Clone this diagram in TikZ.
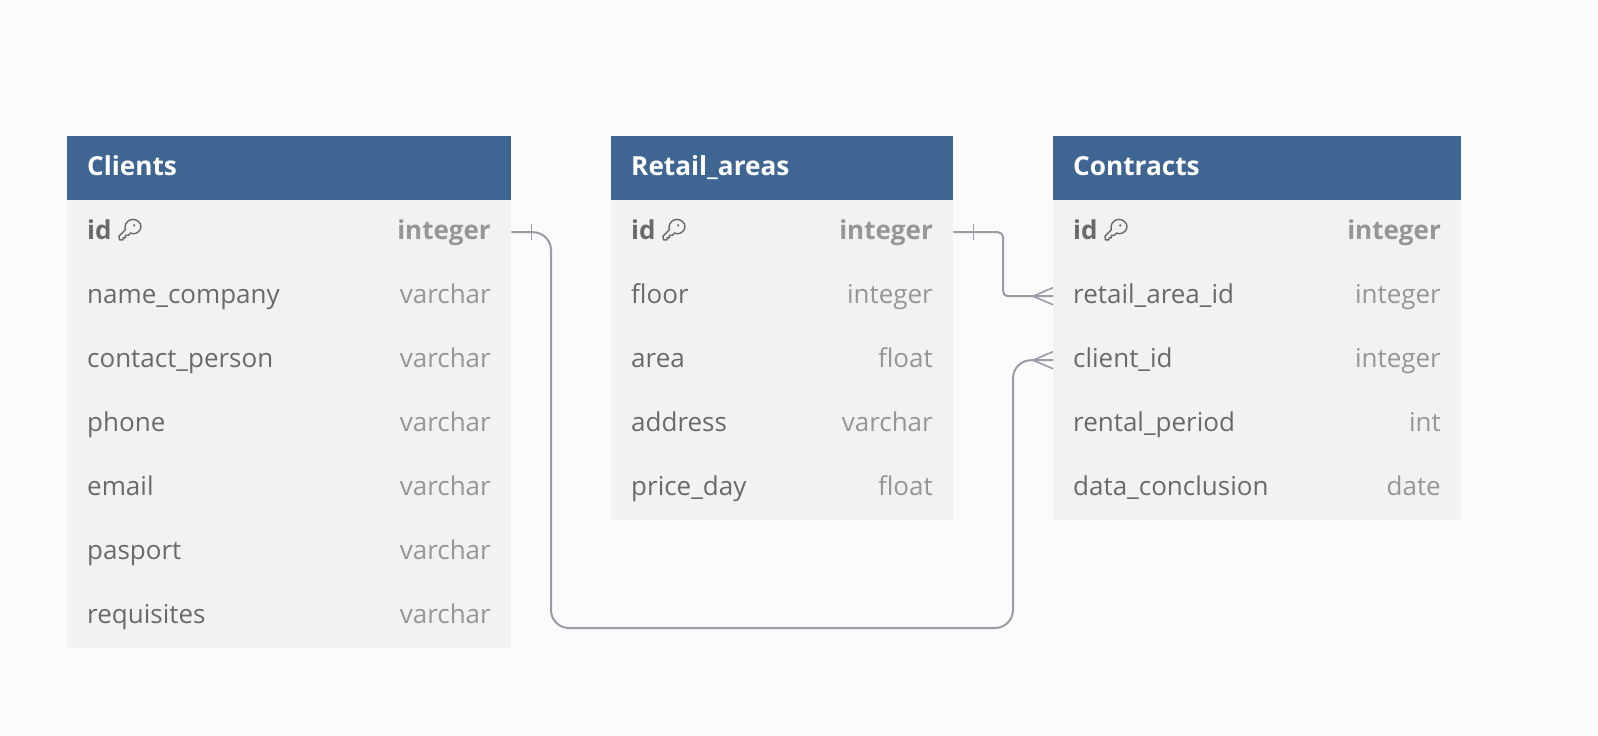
\documentclass[tikz,border=0pt]{standalone}
\usepackage{fontspec}
\setmainfont{Open Sans}
\usetikzlibrary{calc}
\definecolor{pagebg}{HTML}{FBFBFB}
\definecolor{headbg}{HTML}{3F6693}
\definecolor{rowbg}{HTML}{F2F2F2}
\definecolor{nametxt}{HTML}{6A6A6A}
\definecolor{typetxt}{HTML}{969696}
\definecolor{linkc}{HTML}{9B9BA5}
\tikzset{
  x=1pt,y=-1pt,
  headbox/.style={fill=headbg,draw=none,inner sep=0pt,anchor=north west,minimum height=64pt},
  rowbox/.style={fill=rowbg,draw=none,inner sep=0pt,anchor=north west,minimum height=64pt},
  titletxt/.style={text=white,font=\fontsize{26.2}{30}\selectfont\bfseries,inner sep=0pt,anchor=base west},
  nametext/.style={text=nametxt,font=\fontsize{26}{30}\selectfont,inner sep=0pt,anchor=base west},
  typetext/.style={text=typetxt,font=\fontsize{26}{30}\selectfont,inner sep=0pt,anchor=base east},
  pkname/.style={nametext,font=\fontsize{26}{30}\selectfont\bfseries},
  pktype/.style={typetext,font=\fontsize{26}{30}\selectfont\bfseries},
  conn/.style={draw=linkc,line width=2pt},
  thin conn/.style={draw=linkc,line width=1.6pt},
  keyicon/.style={draw=nametxt,line width=1.4pt,line join=round},
}
% #1 id, #2 left x, #3 right x, #4 top y, #5 name, #6 type, #7 name style, #8 type style
\newcommand{\tablerow}[8]{%
  \node[rowbox,minimum width=#3pt-#2pt] (#1) at (#2,#4) {};
  \node[#7] (#1-n) at ($(#2,#4)+(20,39)$) {#5};
  \node[#8] (#1-t) at ($(#3,#4)+(-20,39)$) {#6};
}
\newcommand{\tablehead}[5]{%
  \node[headbox,minimum width=#3pt-#2pt] (#1) at (#2,#4) {};
  \node[titletxt] (#1-n) at ($(#2,#4)+(20,39)$) {#5};
}
\newcommand{\keyglyph}[1]{%
  \begin{scope}[shift={(#1)},scale=0.8]
    \draw[keyicon] (9,-17) .. controls (14,-17) and (19,-13) .. (19,-8)
      .. controls (19,-3) and (14,1) .. (9,1)
      .. controls (7.5,1) and (7,0.5) .. (6,0)
      -- (3,3) -- (-0.5,3) -- (-0.5,6) -- (-3.5,6) -- (-3.5,8.5) -- (-8,8.5) -- (-8.5,4)
      -- (-0.5,-4) .. controls (-1,-5) and (-1,-6) .. (-1,-7)
      .. controls (-1,-13) and (4,-17) .. (9,-17) -- cycle;
    \fill[nametxt] (10.5,-9.5) circle (1.6);
  \end{scope}
}
\begin{document}
\begin{tikzpicture}
\useasboundingbox (0,0) rectangle (1598,736);
\fill[pagebg] (0,0) rectangle (1598,736);

% Clients
\tablehead{cl}{67}{511}{136}{Clients}
\tablerow{clid}{67}{511}{200}{id}{integer}{pkname}{pktype}
\tablerow{clb}{67}{511}{264}{name\_company}{varchar}{nametext}{typetext}
\tablerow{clc}{67}{511}{328}{contact\_person}{varchar}{nametext}{typetext}
\tablerow{cld}{67}{511}{392}{phone}{varchar}{nametext}{typetext}
\tablerow{cle}{67}{511}{456}{email}{varchar}{nametext}{typetext}
\tablerow{clf}{67}{511}{520}{pasport}{varchar}{nametext}{typetext}
\tablerow{clg}{67}{511}{584}{requisites}{varchar}{nametext}{typetext}
\keyglyph{125.8,233}

% Retail_areas
\tablehead{ra}{611}{953}{136}{Retail\_areas}
\tablerow{raid}{611}{953}{200}{id}{integer}{pkname}{pktype}
\tablerow{rab}{611}{953}{264}{floor}{integer}{nametext}{typetext}
\tablerow{rac}{611}{953}{328}{area}{float}{nametext}{typetext}
\tablerow{rad}{611}{953}{392}{address}{varchar}{nametext}{typetext}
\tablerow{rae}{611}{953}{456}{price\_day}{float}{nametext}{typetext}
\keyglyph{669.8,233}

% Contracts
\tablehead{ct}{1053}{1461}{136}{Contracts}
\tablerow{ctid}{1053}{1461}{200}{id}{integer}{pkname}{pktype}
\tablerow{ctra}{1053}{1461}{264}{retail\_area\_id}{integer}{nametext}{typetext}
\tablerow{ctcl}{1053}{1461}{328}{client\_id}{integer}{nametext}{typetext}
\tablerow{ctd}{1053}{1461}{392}{rental\_period}{int}{nametext}{typetext}
\tablerow{cte}{1053}{1461}{456}{data\_conclusion}{date}{nametext}{typetext}
\keyglyph{1111.8,233}

% Connectors
\coordinate (v1) at (551,628);
\coordinate (v2) at (1013,628);
\coordinate (v3) at (1003,264);
\draw[conn,rounded corners=18pt] (clid.east) -| (v1) -- (v2) |- (ctcl.west);
\draw[conn,rounded corners=5pt] (raid.east) -| (v3) |- (ctra.west);

% one-side ticks
\draw[thin conn] ($(clid.east)+(20,-8)$) -- ($(clid.east)+(20,8)$);
\draw[thin conn] ($(raid.east)+(20,-8)$) -- ($(raid.east)+(20,8)$);

% crow's feet
\draw[thin conn] ($(ctra.west)+(0,-8.5)$) -- ($(ctra.west)+(-20,0)$) -- ($(ctra.west)+(0,8.5)$);
\draw[thin conn] ($(ctcl.west)+(0,-8.5)$) -- ($(ctcl.west)+(-20,0)$) -- ($(ctcl.west)+(0,8.5)$);
\end{tikzpicture}
\end{document}
